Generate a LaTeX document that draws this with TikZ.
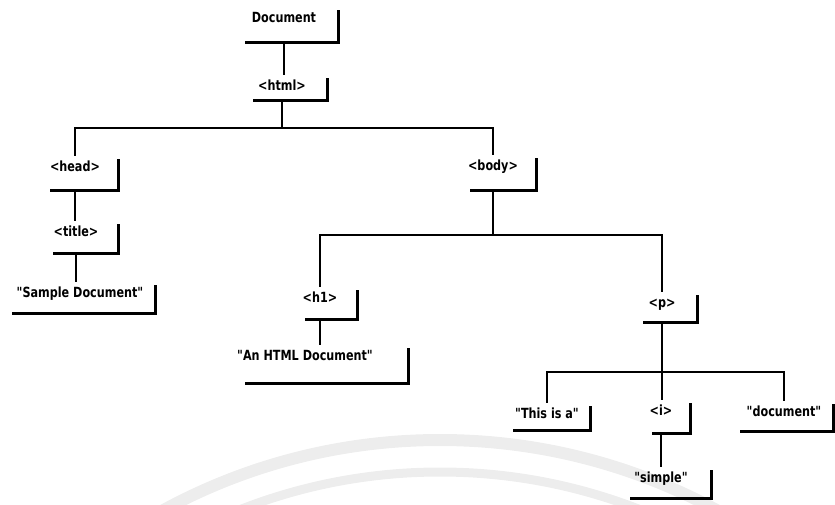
\documentclass[tikz,border=0pt]{standalone}
\usepackage{fontspec}
\newfontfamily\tagfont{DejaVu Sans}[FakeStretch=0.8]

% one element of the tree: label, then the L-shaped bracket under and right of it
% #1 name, #2 x, #3 y, #4 label, #5 bracket left x, #6 bracket right x, #7 bracket y
\newcommand\tagel[7]{%
  \node[tag] (#1) at (#2,#3) {#4};
  \coordinate (#1-out) at (#2,#7);
  \draw[bracket] (#5,#7) -- (#6,#7) -- (#6,#3-7);
}

\begin{document}
\begin{tikzpicture}[x=1pt,y=-1pt,
  tag/.style={font=\tagfont\bfseries\fontsize{14}{14}\selectfont, inner sep=0pt,
              outer sep=5pt, text height=10pt, text depth=0pt},
  bracket/.style={line width=3pt},
  link/.style={line width=2pt},
  faint/.style={gray!14}]
\useasboundingbox (0,0) rectangle (835,504);

% pale arcs in the lower half
\begin{scope}
  \clip (0,0) rectangle (835,504);
  \draw[faint, line width=12pt] (440,1020) circle (580pt);
  \draw[faint, line width=9pt] (440,1020) circle (548pt);
\end{scope}

% elements
\tagel{doc}{284}{17}{Document}{245}{338}{42}
\tagel{html}{282}{85}{<html>}{253}{327}{100}
\tagel{head}{75}{166}{<head>}{50}{118}{190}
\tagel{title}{76}{231}{<title>}{53}{118}{253}
\tagel{sample}{80}{292}{"Sample Document"}{12}{155}{313}
\tagel{body}{493}{165}{<body>}{470}{536}{190}
\tagel{h1}{320}{297}{<h1>}{305}{357}{319}
\tagel{ahd}{305}{355}{"An HTML Document"}{245}{408}{383}
\tagel{p}{662}{302}{<p>}{643}{697}{322}
\tagel{thisis}{547}{413}{"This is a"}{513}{590}{430}
\tagel{i}{661}{410}{<i>}{652}{690}{433}
\tagel{docw}{784}{411}{"document"}{740}{833}{431}
\tagel{simple}{661}{477}{"simple"}{630}{711}{498}

% connectors
\draw[link] (doc-out) -- (doc-out |- html.north);
\draw[link] (html-out) -- ++(0,28) -| (head.north);
\draw[link] (html-out) -- ++(0,28) -| (body.north);
\draw[link] (head-out) -- (head-out |- title.north);
\draw[link] (title-out) -- (title-out |- sample.north);
\draw[link] (body-out) -- ++(0,45) -| (h1.north);
\draw[link] (body-out) -- ++(0,45) -| (p.north);
\draw[link] (h1-out) -- (h1-out |- ahd.north);
\draw[link] (p-out) -- ++(0,50) -| (thisis.north);
\draw[link] (p-out) -- (p-out |- i.north);
\draw[link] (p-out) -- ++(0,50) -| (docw.north);
\draw[link] (i-out) -- (i-out |- simple.north);
\end{tikzpicture}
\end{document}
